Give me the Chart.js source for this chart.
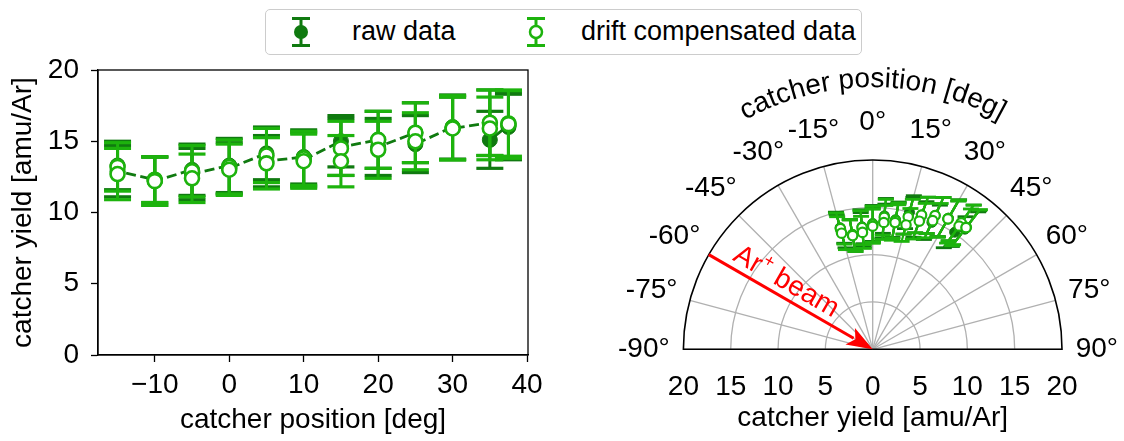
<!DOCTYPE html>
<html lang="en">
<head>
<meta charset="UTF-8">
<script src="https://cdn.jsdelivr.net/npm/chart.js"></script>
<title>catcher yield</title>
<style>
    body { margin: 0; background: #fff; width: 1124px; height: 441px; overflow: hidden; position: relative;
           font-family: "Liberation Sans", Arial, sans-serif; }
    #left { position: absolute; left: 0; top: 0; }
    #right { position: absolute; left: 560px; top: 0; }
    #legend { position: absolute; left: 265px; top: 9px; width: 597px; height: 46px; box-sizing: border-box;
              border: 1.5px solid #cccccc; border-radius: 5px; background: #fff; z-index: 2; }
    #legend svg { position: absolute; top: 7px; }
    #legend span { position: absolute; top: 5px; font-size: 27px; line-height: 32px; color: #000; white-space: nowrap; }
</style>
</head>
<body>
    <div id="legend">
        <svg style="left:23px" width="24" height="30" viewBox="0 0 24 30">
            <line x1="12" y1="1" x2="12" y2="29" stroke="#107a10" stroke-width="3"/>
            <line x1="3" y1="1.5" x2="21" y2="1.5" stroke="#107a10" stroke-width="3"/>
            <line x1="3" y1="28.5" x2="21" y2="28.5" stroke="#107a10" stroke-width="3"/>
            <circle cx="12" cy="15" r="7" fill="#107a10"/>
        </svg>
        <span style="left:86px">raw data</span>
        <svg style="left:258px" width="24" height="30" viewBox="0 0 24 30">
            <line x1="12" y1="1" x2="12" y2="29" stroke="#1db30d" stroke-width="3"/>
            <line x1="3" y1="1.5" x2="21" y2="1.5" stroke="#1db30d" stroke-width="3"/>
            <line x1="3" y1="28.5" x2="21" y2="28.5" stroke="#1db30d" stroke-width="3"/>
            <circle cx="12" cy="15" r="6" fill="#fff" stroke="#1db30d" stroke-width="2.5"/>
        </svg>
        <span style="left:315px">drift compensated data</span>
    </div>
    <canvas id="left" width="560" height="441"></canvas>
    <canvas id="right" width="564" height="441"></canvas>

    <script>
        const DARK = '#107a10';
        const BRIGHT = '#1db30d';
        const FONT = "'Liberation Sans', Arial, sans-serif";
        const FS = 28;

        // catcher positions (deg), two measurements per position
        const positions = [-15, -15, -10, -10, -5, -5, 0, 0, 5, 5, 10, 10, 15, 15, 20, 20, 25, 25, 30, 30, 35, 35, 37.5, 37.5];
        const rawYield  = [13.3, 12.9, 12.3, 12.2, 13.0, 12.7, 13.3, 13.1, 14.15, 13.6, 13.9, 13.7, 15.0, 14.6, 15.1, 14.6, 15.6, 14.8, 16.0, 15.9, 16.3, 15.1, 16.1, 16.0];
        const rawErr    = [1.7, 1.8, 1.6, 1.7, 1.8, 1.8, 1.9, 1.8, 1.85, 1.8, 1.9, 1.9, 1.8, 2.0, 2.0, 2.0, 2.1, 2.0, 2.25, 2.2, 2.3, 2.0, 2.35, 2.3];
        const compYield = [13.2, 12.7, 12.3, 12.2, 12.9, 12.4, 13.2, 13.0, 14.0, 13.45, 13.8, 13.6, 14.5, 13.6, 15.1, 14.4, 15.6, 15.0, 15.95, 15.9, 16.3, 15.9, 16.25, 16.2];
        const compErr   = [1.7, 1.8, 1.6, 1.7, 1.8, 1.7, 1.9, 1.8, 1.9, 1.8, 1.9, 1.9, 1.9, 1.8, 2.0, 2.0, 2.1, 2.0, 2.25, 2.2, 2.3, 2.2, 2.3, 2.4];

        const angleTicks = [-90, -75, -60, -45, -30, -15, 0, 15, 30, 45, 60, 75, 90];
        const ringValues = [5, 10, 15];
        const outerRadius = 20;
        const beamAngle = -60;

        Chart.defaults.font.family = FONT;
        Chart.defaults.color = '#000';

        const rad = d => d * Math.PI / 180;
        const polarXY = (deg, r) => ({ x: r * Math.sin(rad(deg)), y: r * Math.cos(rad(deg)) });

        // ---------- left: cartesian plot ----------
        const cartesianBars = {
            id: 'cartesianBars',
            beforeDatasetDraw(chart, args) {
                const ds = chart.data.datasets[args.index];
                const xs = chart.scales.x, ys = chart.scales.y, ctx = chart.ctx;
                ctx.save();
                ctx.strokeStyle = ds.barColor;
                ds.data.forEach((p, i) => {
                    const px = xs.getPixelForValue(p.x);
                    const top = ys.getPixelForValue(p.y + ds.yErr[i]);
                    const bot = ys.getPixelForValue(p.y - ds.yErr[i]);
                    ctx.lineWidth = 3;
                    ctx.beginPath(); ctx.moveTo(px, top); ctx.lineTo(px, bot); ctx.stroke();
                    ctx.lineWidth = 3.2;
                    [top, bot].forEach(y => {
                        ctx.beginPath(); ctx.moveTo(px - 13.5, y); ctx.lineTo(px + 13.5, y); ctx.stroke();
                    });
                });
                ctx.restore();
            },
            afterDraw(chart) {
                const a = chart.chartArea, ctx = chart.ctx;
                ctx.save();
                ctx.strokeStyle = '#000';
                ctx.lineWidth = 1.3;
                ctx.strokeRect(a.left, a.top, a.right - a.left, a.bottom - a.top);
                ctx.restore();
            }
        };

        new Chart(document.getElementById('left'), {
            type: 'scatter',
            data: {
                datasets: [{
                    label: 'raw data',
                    data: positions.map((p, i) => ({ x: p, y: rawYield[i] })),
                    yErr: rawErr,
                    barColor: DARK,
                    showLine: true,
                    borderColor: DARK,
                    borderWidth: 2.8,
                    borderDash: [10, 4.5],
                    pointRadius: 7.5,
                    pointBackgroundColor: DARK,
                    pointBorderColor: DARK,
                    pointBorderWidth: 1,
                    order: 2
                }, {
                    label: 'drift compensated data',
                    data: positions.map((p, i) => ({ x: p, y: compYield[i] })),
                    yErr: compErr,
                    barColor: BRIGHT,
                    showLine: false,
                    pointRadius: 7,
                    pointBackgroundColor: '#fff',
                    pointBorderColor: BRIGHT,
                    pointBorderWidth: 2.6,
                    order: 1
                }]
            },
            options: {
                responsive: false,
                animation: false,
                devicePixelRatio: 1,
                layout: { padding: { left: 0, top: 70, right: 32, bottom: 0 } },
                plugins: { legend: { display: false }, tooltip: { enabled: false } },
                scales: {
                    x: {
                        type: 'linear', min: -17.625, max: 40.125,
                        ticks: { stepSize: 10, includeBounds: false, padding: 6.5, font: { size: FS },
                                 callback: v => (v < 0 ? '\u2212' : '') + Math.abs(v) },
                        grid: { drawOnChartArea: false, tickLength: 7, tickWidth: 1.3, tickColor: '#000' },
                        border: { display: true, color: '#000', width: 1.3 },
                        title: { display: true, text: 'catcher position [deg]', font: { size: FS }, padding: { top: 0, bottom: 3.5 } },
                        afterFit: s => { s.height = 86; }
                    },
                    y: {
                        type: 'linear', min: 0, max: 20,
                        ticks: { stepSize: 5, padding: 12, font: { size: FS } },
                        grid: { drawOnChartArea: false, tickLength: 7, tickWidth: 1.3, tickColor: '#000' },
                        border: { display: true, color: '#000', width: 1.3 },
                        title: { display: true, text: 'catcher yield [amu/Ar]', font: { size: FS }, padding: { top: 6, bottom: 0 } },
                        afterFit: s => { s.width = 98; }
                    }
                }
            },
            plugins: [cartesianBars]
        });

        // ---------- right: polar view ----------
        const polarDecor = {
            id: 'polarDecor',
            beforeDatasetsDraw(chart) {
                const xs = chart.scales.x, ys = chart.scales.y, ctx = chart.ctx;
                const cx = xs.getPixelForValue(0), cy = ys.getPixelForValue(0);
                ctx.save();
                ctx.strokeStyle = '#b0b0b0';
                ctx.lineWidth = 1.3;
                ringValues.forEach(r => {
                    ctx.beginPath();
                    ctx.ellipse(cx, cy, xs.getPixelForValue(r) - cx, cy - ys.getPixelForValue(r), 0, Math.PI, 2 * Math.PI);
                    ctx.stroke();
                });
                angleTicks.forEach(a => {
                    const p = polarXY(a, outerRadius);
                    ctx.beginPath(); ctx.moveTo(cx, cy);
                    ctx.lineTo(xs.getPixelForValue(p.x), ys.getPixelForValue(p.y));
                    ctx.stroke();
                });
                ctx.strokeStyle = '#000';
                ctx.lineWidth = 1.6;
                ctx.beginPath();
                ctx.ellipse(cx, cy, xs.getPixelForValue(outerRadius) - cx, cy - ys.getPixelForValue(outerRadius), 0, Math.PI, 2 * Math.PI);
                ctx.closePath();
                ctx.stroke();
                ctx.restore();
            },
            beforeDatasetDraw(chart, args) {
                const ds = chart.data.datasets[args.index];
                const xs = chart.scales.x, ys = chart.scales.y, ctx = chart.ctx;
                ctx.save();
                ctx.strokeStyle = ds.barColor;
                ds.angles.forEach((a, i) => {
                    const lo = polarXY(a, ds.radii[i] - ds.yErr[i]);
                    const hi = polarXY(a, ds.radii[i] + ds.yErr[i]);
                    const ends = [lo, hi].map(p => [xs.getPixelForValue(p.x), ys.getPixelForValue(p.y)]);
                    ctx.lineWidth = 2.2;
                    ctx.beginPath(); ctx.moveTo(ends[0][0], ends[0][1]); ctx.lineTo(ends[1][0], ends[1][1]); ctx.stroke();
                    ctx.lineWidth = 2.8;
                    ends.forEach(([x, y]) => {
                        ctx.beginPath(); ctx.moveTo(x - 8, y); ctx.lineTo(x + 8, y); ctx.stroke();
                    });
                });
                ctx.restore();
            },
            afterDraw(chart) {
                const xs = chart.scales.x, ys = chart.scales.y, ctx = chart.ctx;
                const cx = xs.getPixelForValue(0), cy = ys.getPixelForValue(0);
                const pxPerUnit = xs.getPixelForValue(1) - cx;
                ctx.save();
                ctx.fillStyle = '#000';
                ctx.font = FS + 'px ' + FONT;
                ctx.textAlign = 'center';
                ctx.textBaseline = 'middle';
                // angle labels
                angleTicks.forEach(a => {
                    const label = a + '\u00b0';
                    const w = ctx.measureText(label).width;
                    const p = polarXY(a, 21.45);
                    const x = xs.getPixelForValue(p.x) + Math.sin(rad(a)) * w / 2;
                    const y = ys.getPixelForValue(p.y) - Math.cos(rad(a)) * 24;
                    ctx.fillText(label, x, y);
                });
                // curved axis title
                const title = 'catcher position [deg]';
                const R = 27.7 * pxPerUnit;
                const total = ctx.measureText(title).width;
                let cum = 0;
                ctx.textBaseline = 'alphabetic';
                for (const ch of title) {
                    const w = ctx.measureText(ch).width;
                    const ang = (cum + w / 2 - total / 2) / R;
                    ctx.save();
                    ctx.translate(cx + R * Math.sin(ang), cy - R * Math.cos(ang));
                    ctx.rotate(ang);
                    ctx.fillText(ch, 0, 0);
                    ctx.restore();
                    cum += w;
                }
                // beam arrow
                const s = polarXY(beamAngle, outerRadius);
                const sx = xs.getPixelForValue(s.x), sy = ys.getPixelForValue(s.y);
                const dx = cx - sx, dy = cy - sy, len = Math.hypot(dx, dy);
                const ux = dx / len, uy = dy / len;
                const head = 26, hw = 9.5;
                ctx.strokeStyle = '#ff0000';
                ctx.fillStyle = '#ff0000';
                ctx.lineWidth = 3;
                ctx.beginPath(); ctx.moveTo(sx, sy); ctx.lineTo(cx - ux * (head - 4), cy - uy * (head - 4)); ctx.stroke();
                ctx.beginPath();
                ctx.moveTo(cx, cy);
                ctx.lineTo(cx - ux * head - uy * hw, cy - uy * head + ux * hw);
                ctx.lineTo(cx - ux * (head - 6), cy - uy * (head - 6));
                ctx.lineTo(cx - ux * head + uy * hw, cy - uy * head - ux * hw);
                ctx.closePath();
                ctx.fill();
                // beam label
                const mx = (sx + cx) / 2 - ux * 14 + uy * 15;
                const my = (sy + cy) / 2 - uy * 14 - ux * 15;
                ctx.translate(mx, my);
                ctx.rotate(Math.atan2(uy, ux));
                ctx.textBaseline = 'middle';
                ctx.textAlign = 'left';
                const big = FS + 'px ' + FONT, small = '18px ' + FONT;
                ctx.font = big; const wAr = ctx.measureText('Ar').width; const wBeam = ctx.measureText(' beam').width;
                ctx.font = small; const wPlus = ctx.measureText('+').width;
                let x0 = -(wAr + wPlus + wBeam) / 2;
                ctx.font = big; ctx.fillText('Ar', x0, 0); x0 += wAr;
                ctx.font = small; ctx.fillText('+', x0, -9); x0 += wPlus;
                ctx.font = big; ctx.fillText(' beam', x0, 0);
                ctx.restore();
            }
        };

        new Chart(document.getElementById('right'), {
            type: 'scatter',
            data: {
                datasets: [{
                    label: 'raw data',
                    data: positions.map((p, i) => polarXY(p, rawYield[i])),
                    angles: positions, radii: rawYield, yErr: rawErr,
                    barColor: DARK,
                    pointRadius: 5,
                    pointBackgroundColor: DARK,
                    pointBorderColor: DARK,
                    pointBorderWidth: 1,
                    order: 2
                }, {
                    label: 'drift compensated data',
                    data: positions.map((p, i) => polarXY(p, compYield[i])),
                    angles: positions, radii: compYield, yErr: compErr,
                    barColor: BRIGHT,
                    pointRadius: 4.7,
                    pointBackgroundColor: '#fff',
                    pointBorderColor: BRIGHT,
                    pointBorderWidth: 2.2,
                    order: 1
                }]
            },
            options: {
                responsive: false,
                animation: false,
                devicePixelRatio: 1,
                layout: { padding: { left: 123.4, top: 160, right: 62, bottom: 0 } },
                plugins: { legend: { display: false }, tooltip: { enabled: false } },
                scales: {
                    x: {
                        type: 'linear', min: -outerRadius, max: outerRadius,
                        ticks: { stepSize: 5, padding: 13.5, font: { size: FS }, callback: v => Math.abs(v) },
                        grid: { display: false },
                        border: { display: false },
                        title: { display: true, text: 'catcher yield [amu/Ar]', font: { size: FS }, padding: { top: 0, bottom: 5.5 } },
                        afterFit: s => { s.height = 91.7; }
                    },
                    y: { type: 'linear', min: 0, max: outerRadius, display: false }
                }
            },
            plugins: [polarDecor]
        });
    </script>
</body>
</html>
